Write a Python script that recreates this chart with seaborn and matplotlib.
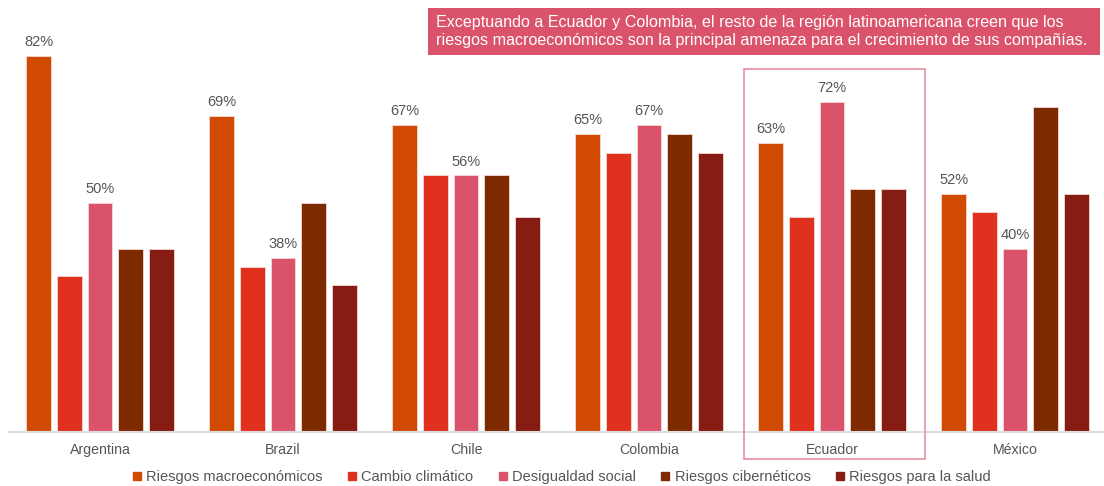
import matplotlib
matplotlib.use("Agg")
import matplotlib.pyplot as plt
import matplotlib.patches as mpatches
from matplotlib.lines import Line2D
import seaborn as sns
import pandas as pd

countries = ["Argentina", "Brazil", "Chile", "Colombia", "Ecuador", "México"]
series_names = ["Riesgos macroeconómicos", "Cambio climático", "Desigualdad social",
                "Riesgos cibernéticos", "Riesgos para la salud"]
macro = [82, 69, 67, 65, 63, 52]
cambio = [34, 36, 56, 61, 47, 48]
desigualdad = [50, 38, 56, 67, 72, 40]
ciber = [40, 50, 56, 65, 53, 71]
salud = [40, 32, 47, 61, 53, 52]
colors = ["#D04A02", "#E0301E", "#DB536A", "#7D2A00", "#871C15"]
title_text = ("Exceptuando a Ecuador y Colombia, el resto de la región latinoamericana creen que los\n"
              "riesgos macroeconómicos son la principal amenaza para el crecimiento de sus compañías.")

values = [macro, cambio, desigualdad, ciber, salud]
rows = []
for s, vals in zip(series_names, values):
    for c, v in zip(countries, vals):
        rows.append({"country": c, "serie": s, "value": v})
df = pd.DataFrame(rows)

sns.set_theme(style="white")
plt.rcParams["font.family"] = ["Liberation Sans", "DejaVu Sans"]

W, H = 1104, 486
fig = plt.figure(figsize=(W / 100, H / 100), dpi=100)
ax = fig.add_axes([0.0077, 0.111, 0.9946, 0.84])

sns.barplot(data=df, x="country", y="value", hue="serie", order=countries,
            hue_order=series_names, palette=colors, saturation=1, width=0.84, gap=0.2,
            edgecolor="#f3d9d4", linewidth=0.6, ax=ax, legend=False)

ax.set_ylim(0, 89.1)
ax.set_xlim(-0.5, 5.5)
ax.set_xlabel("")
ax.set_ylabel("")
ax.set_yticks([])
for sp in ["top", "right", "left"]:
    ax.spines[sp].set_visible(False)
ax.spines["bottom"].set_color("#dddddd")
ax.spines["bottom"].set_linewidth(1.5)
ax.tick_params(axis="x", length=0, pad=8, labelsize=10.2, labelcolor="#555555")

# value labels on macro and desigualdad bars
for idx in [0, 2]:
    cont = ax.containers[idx]
    ax.bar_label(cont, labels=[f"{v}%" for v in values[idx]], padding=5,
                 fontsize=10.5, color="#555555")

# highlight rectangle around Ecuador
rect = mpatches.Rectangle((744 / W, (H - 459) / H), (925 - 744) / W, (459 - 69) / H,
                          transform=fig.transFigure, fill=False, edgecolor="#E8909F",
                          linewidth=1.2)
fig.patches.append(rect)

# title box
box = mpatches.Rectangle((428 / W, (H - 55) / H), (1100 - 428) / W, (55 - 8) / H,
                         transform=fig.transFigure, facecolor="#DB536A", edgecolor="none")
fig.patches.append(box)
fig.text(436 / W, (H - 31.5) / H, title_text, color="white", fontsize=11.6, ha="left",
         va="center", linespacing=1.2)

handles = [Line2D([0], [0], marker="s", linestyle="none", markersize=6,
                  markerfacecolor=c, markeredgecolor=c) for c in colors]
fig.legend(handles, series_names, loc="center", bbox_to_anchor=(561 / W, (H - 477) / H), ncol=5,
           frameon=False, fontsize=10.5, handletextpad=0.25, columnspacing=1.6,
           handlelength=0.8, labelcolor="#555555")

fig.savefig("out.png", dpi=100)
